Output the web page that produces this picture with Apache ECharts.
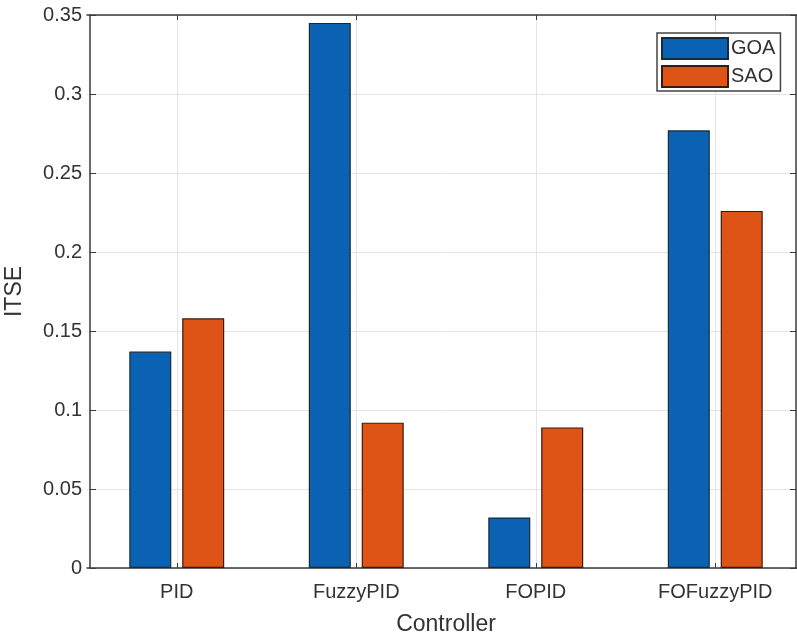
<!DOCTYPE html>
<html>
<head>
<meta charset="utf-8">
<script src="https://cdn.jsdelivr.net/npm/echarts@6/dist/echarts.min.js"></script>
<style>html,body{margin:0;padding:0;background:#fff}#c{width:797px;height:639px}</style>
</head>
<body>
<div id="c"></div>
<script>
const categories = ['PID', 'FuzzyPID', 'FOPID', 'FOFuzzyPID'];
const goa = [0.137, 0.345, 0.032, 0.277];
const sao = [0.158, 0.092, 0.089, 0.226];
const yTicks = { min: 0, max: 0.35, interval: 0.05 };

const font = 'Liberation Sans, Arial, sans-serif';
const axisColor = '#3a3a3a';
const gridColor = '#e4e4e4';

const chart = echarts.init(document.getElementById('c'));
chart.setOption({
  animation: false,
  backgroundColor: '#fff',
  textStyle: { fontFamily: font },
  grid: { left: 87, top: 15, width: 718, height: 553, containLabel: false, outerBoundsMode: 'none' },
  legend: {
    orient: 'vertical',
    left: 657, top: 33,
    padding: [4, 5, 3, 4],
    itemWidth: 66, itemHeight: 21, itemGap: 5,
    backgroundColor: '#fff',
    borderColor: '#444', borderWidth: 1.5, borderRadius: 0,
    textStyle: { fontSize: 20, color: '#333', fontFamily: font, padding: [0, 0, 0, -2] },
    icon: 'rect',
    data: ['GOA', 'SAO']
  },
  xAxis: [{
    type: 'category',
    data: categories,
    name: 'Controller',
    nameLocation: 'middle',
    nameGap: 45,
    nameTextStyle: { fontSize: 23, color: '#333', fontFamily: font },
    axisLine: { show: true, lineStyle: { color: axisColor, width: 1.5 } },
    axisTick: { show: true, inside: true, length: 5, alignWithLabel: true, lineStyle: { color: axisColor } },
    axisLabel: { fontSize: 20, color: '#333', margin: 14, fontFamily: font },
    splitLine: { show: true, alignWithLabel: true, lineStyle: { color: gridColor, width: 1 } }
  }, {
    type: 'category',
    data: categories,
    position: 'top',
    axisLine: { show: true, onZero: false, lineStyle: { color: axisColor, width: 1.5 } },
    axisTick: { show: true, inside: true, length: 5, alignWithLabel: true, lineStyle: { color: axisColor } },
    axisLabel: { show: false },
    splitLine: { show: false }
  }],
  yAxis: [{
    type: 'value',
    min: yTicks.min, max: yTicks.max, interval: yTicks.interval,
    offset: -3,
    name: 'ITSE',
    nameLocation: 'middle',
    nameGap: 64,
    nameTextStyle: { fontSize: 23, color: '#333', fontFamily: font },
    axisLine: { show: true, lineStyle: { color: axisColor, width: 1.5 } },
    axisTick: { show: true, inside: true, length: 6, lineStyle: { color: axisColor } },
    axisLabel: { fontSize: 20, color: '#333', margin: 8, fontFamily: font },
    splitLine: { show: true, lineStyle: { color: gridColor, width: 1 } }
  }, {
    type: 'value',
    position: 'right',
    offset: -9,
    min: yTicks.min, max: yTicks.max, interval: yTicks.interval,
    axisLine: { show: true, lineStyle: { color: axisColor, width: 1.5 } },
    axisTick: { show: true, inside: true, length: 6, lineStyle: { color: axisColor } },
    axisLabel: { show: false },
    splitLine: { show: false }
  }],
  series: [{
    name: 'GOA',
    type: 'bar',
    data: goa,
    barWidth: 42,
    barGap: '26%',
    itemStyle: { color: '#0b62b2', borderColor: '#1a2a3a', borderWidth: 1.2 }
  }, {
    name: 'SAO',
    type: 'bar',
    data: sao,
    barWidth: 42,
    barGap: '26%',
    itemStyle: { color: '#de5316', borderColor: '#3a1a10', borderWidth: 1.2 }
  }]
});
</script>
</body>
</html>
